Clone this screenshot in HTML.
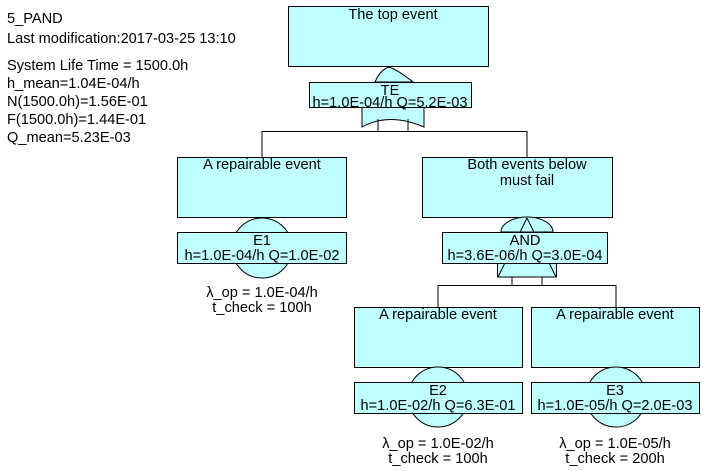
<!DOCTYPE html>
<html><head><meta charset="utf-8"><style>
html,body{margin:0;padding:0;background:#fff;}
svg{display:block;font-family:"Liberation Sans",sans-serif;}
text{font-size:14.6px;fill:#000;}
</style></head><body>
<svg width="703" height="471" viewBox="0 0 703 471" xmlns="http://www.w3.org/2000/svg">
<g fill="#000">
<text x="7" y="23">5_PAND</text>
<text x="7" y="43">Last modification:2017-03-25 13:10</text>
<text x="7" y="70">System Life Time = 1500.0h</text>
<text x="7" y="88">h_mean=1.04E-04/h</text>
<text x="7" y="106">N(1500.0h)=1.56E-01</text>
<text x="7" y="124">F(1500.0h)=1.44E-01</text>
<text x="7" y="142">Q_mean=5.23E-03</text>
</g>
<g stroke="#000" stroke-width="1" fill="none">
<path d="M262,157 V131.5 H527 V157"/>
<path d="M438,307 V285.5 H616 V307"/>
<path d="M512,277 V285.5 M542,277 V285.5"/>
</g>
<g stroke="#000" stroke-width="1" fill="#c0ffff">
<!-- top -->
<rect x="288.5" y="6.5" width="200" height="60"/>
<path d="M375,82 Q380,70 389,67 Q398,70 413,82 Z"/>
<path d="M362,107 L362,127 Q389,112 424,127 L424,107 Z"/>
<path d="M378,119 V131 M408,119 V131" fill="none"/>
<rect x="309.5" y="82.5" width="162" height="25"/>
<!-- left -->
<rect x="177.5" y="157.5" width="169" height="60"/>
<circle cx="262" cy="248" r="30"/>
<rect x="177.5" y="232.5" width="169" height="31"/>
<!-- right AND -->
<rect x="422.5" y="157.5" width="190" height="60"/>
<path d="M501,232 A26,15 0 0 1 553,232 Z"/>
<rect x="497.5" y="263" width="59" height="14"/>
<path d="M527,218 L498,277 M527,218 L556,277" fill="none"/>
<rect x="442.5" y="232.5" width="165" height="31"/>
<!-- E2 -->
<rect x="354.5" y="307.5" width="168" height="60"/>
<circle cx="438" cy="397" r="30"/>
<rect x="354.5" y="382.5" width="168" height="31"/>
<!-- E3 -->
<rect x="531.5" y="307.5" width="168" height="60"/>
<circle cx="616" cy="397" r="30"/>
<rect x="531.5" y="382.5" width="168" height="31"/>
</g>
<g text-anchor="middle">
<text x="393" y="19">The top event</text>
<text x="390" y="95">TE</text>
<text x="390" y="107">h=1.0E-04/h Q=5.2E-03</text>
<text x="262" y="169">A repairable event</text>
<text x="262" y="245">E1</text>
<text x="262" y="260">h=1.0E-04/h Q=1.0E-02</text>
<text x="262" y="297">λ_op = 1.0E-04/h</text>
<text x="262" y="312">t_check = 100h</text>
<text x="527" y="169">Both events below</text>
<text x="527" y="185">must fail</text>
<text x="525" y="245">AND</text>
<text x="525" y="260">h=3.6E-06/h Q=3.0E-04</text>
<text x="438" y="319">A repairable event</text>
<text x="438" y="395">E2</text>
<text x="438" y="410">h=1.0E-02/h Q=6.3E-01</text>
<text x="438" y="448">λ_op = 1.0E-02/h</text>
<text x="438" y="463">t_check = 100h</text>
<text x="615" y="319">A repairable event</text>
<text x="615" y="395">E3</text>
<text x="615" y="410">h=1.0E-05/h Q=2.0E-03</text>
<text x="615" y="448">λ_op = 1.0E-05/h</text>
<text x="615" y="463">t_check = 200h</text>
</g>
</svg>
</body></html>
